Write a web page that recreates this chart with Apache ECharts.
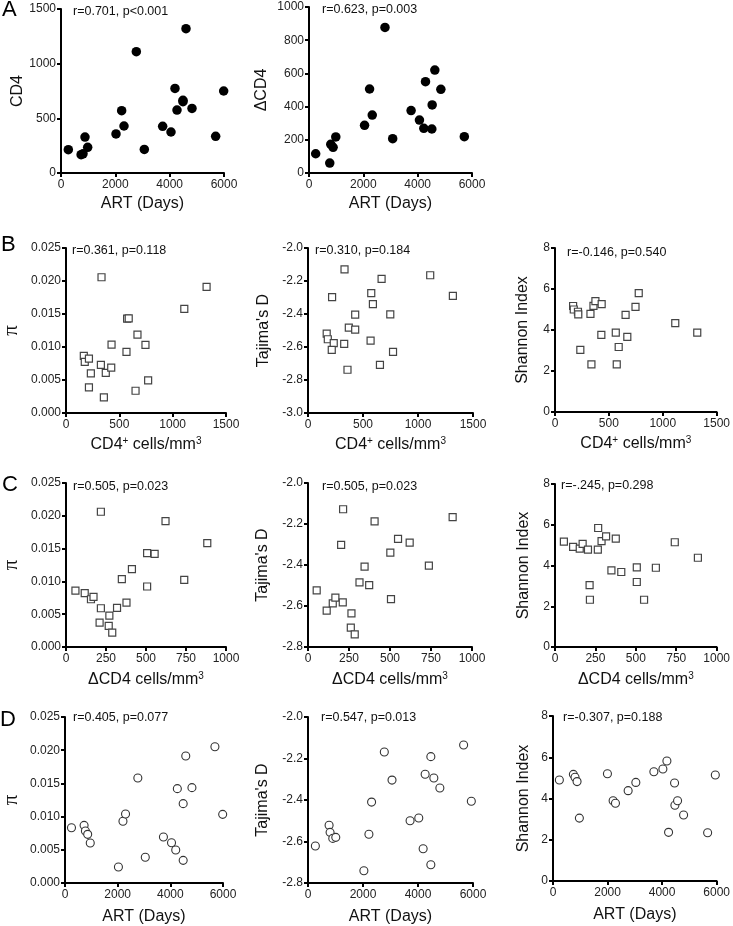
<!DOCTYPE html>
<html><head><meta charset="utf-8">
<script src="https://cdn.jsdelivr.net/npm/echarts@6/dist/echarts.min.js"></script>
<style>html,body{margin:0;padding:0;background:#fff}#c{width:733px;height:926px}</style>
</head><body><div id="c"></div>
<script>
// ---- tick values ----
const artTicks = [0, 2000, 4000, 6000];
const cd4Ticks = [0, 500, 1000, 1500];
const dcd4TicksA = [0, 200, 400, 600, 800, 1000];
const dcd4TicksC = [0, 250, 500, 750, 1000];
const piTicks = [0, 0.005, 0.010, 0.015, 0.020, 0.025];
const tajTicksB = [-3.0, -2.8, -2.6, -2.4, -2.2, -2.0];
const tajTicksCD = [-2.8, -2.6, -2.4, -2.2, -2.0];
const shanTicks = [0, 2, 4, 6, 8];

// ---- panel statistics ----
const panelLetters = ['A', 'B', 'C', 'D'];
const statsA = ['r=0.701, p<0.001', 'r=0.623, p=0.003'];
const statsB = ['r=0.361, p=0.118', 'r=0.310, p=0.184', 'r=-0.146, p=0.540'];
const statsC = ['r=0.505, p=0.023', 'r=0.505, p=0.023', 'r=-.245, p=0.298'];
const statsD = ['r=0.405, p=0.077', 'r=0.547, p=0.013', 'r=-0.307, p=0.188'];

// ---- data (x, y) ----
const cd4VsArt = [[270,213],[740,168],[810,175],[883,329],[982,235],[2025,357],[2233,570],[2319,430],[2773,1110],[3067,216],[3742,427],[4049,375],[4196,774],[4270,576],[4490,665],[4490,652],[4601,1320],[4822,591],[5693,335],[5988,750]];
const dcd4VsArt = [[246,116],[764,60],[801,173],[887,155],[986,217],[2045,287],[2230,506],[2328,349],[2797,877],[3080,207],[3758,376],[4066,319],[4226,269],[4288,550],[4522,265],[4534,410],[4632,620],[4854,504],[5717,219],[6037,735]];

const piVsCd4 = [[167,0.00865],[176,0.00775],[215,0.00825],[233,0.00599],[215,0.00387],[333,0.02057],[327,0.00729],[373,0.00609],[355,0.00236],[424,0.00689],[427,0.01036],[573,0.01429],[588,0.01434],[567,0.00926],[670,0.01187],[652,0.00337],[745,0.01031],[770,0.00493],[1109,0.01579],[1318,0.01911]];
const tajVsCd4 = [[170,-2.519],[180,-2.553],[234,-2.577],[216,-2.618],[219,-2.298],[332,-2.129],[329,-2.581],[371,-2.483],[429,-2.404],[429,-2.495],[359,-2.738],[575,-2.274],[590,-2.340],[569,-2.561],[669,-2.187],[654,-2.708],[748,-2.402],[773,-2.630],[1111,-2.165],[1317,-2.290]];
const shanVsCd4 = [[168,5.17],[174,5.00],[213,4.89],[216,4.76],[235,3.03],[329,4.79],[357,5.18],[375,5.41],[338,2.32],[433,5.26],[430,3.76],[564,3.87],[591,3.17],[573,2.32],[655,4.74],[671,3.66],[747,5.13],[777,5.80],[1116,4.34],[1320,3.87]];

const piVsDcd4 = [[59,0.0086],[117,0.0082],[156,0.00728],[172,0.00764],[218,0.00591],[210,0.00372],[218,0.02062],[271,0.00479],[267,0.00321],[289,0.00219],[319,0.00596],[349,0.01034],[378,0.00677],[412,0.01186],[507,0.01431],[507,0.00922],[554,0.01421],[622,0.0192],[739,0.01023],[883,0.01583]];
const tajVsDcd4 = [[53,-2.524],[114,-2.623],[151,-2.587],[167,-2.559],[212,-2.582],[214,-2.128],[202,-2.302],[265,-2.636],[261,-2.705],[285,-2.738],[314,-2.485],[345,-2.408],[373,-2.498],[406,-2.187],[502,-2.340],[506,-2.566],[549,-2.273],[620,-2.291],[737,-2.403],[882,-2.166]];
const shanVsDcd4 = [[55,5.17],[112,4.91],[153,4.83],[171,5.06],[204,4.78],[214,3.04],[216,2.32],[265,4.78],[267,5.84],[288,5.20],[316,5.43],[349,3.76],[376,5.32],[410,3.68],[506,3.91],[506,3.19],[551,2.32],[624,3.89],[741,5.14],[884,4.38]];

const piVsArt = [[246,0.00833],[725,0.00868],[775,0.00783],[861,0.00733],[959,0.00602],[2029,0.00241],[2201,0.00929],[2299,0.01039],[2766,0.01581],[3049,0.00387],[3738,0.00693],[4045,0.00607],[4205,0.00497],[4266,0.01421],[4488,0.01195],[4488,0.00341],[4586,0.01913],[4820,0.01436],[5693,0.02053],[5988,0.01034]];
const tajVsArt = [[268,-2.622],[767,-2.522],[803,-2.556],[901,-2.585],[1010,-2.580],[2032,-2.741],[2215,-2.565],[2312,-2.410],[2775,-2.169],[3055,-2.304],[3712,-2.500],[4028,-2.487],[4187,-2.635],[4260,-2.276],[4467,-2.191],[4467,-2.712],[4576,-2.294],[4795,-2.342],[5659,-2.135],[5939,-2.406]];
const shanVsArt = [[233,4.90],[747,5.17],[808,5.03],[882,4.82],[967,3.05],[1996,5.20],[2204,3.89],[2290,3.77],[2755,4.38],[3037,4.78],[3698,5.30],[4029,5.43],[4176,5.82],[4237,2.36],[4457,4.75],[4469,3.67],[4567,3.89],[4788,3.20],[5669,2.34],[5951,5.14]];

// ---- layout ----
const FONT = 'Liberation Sans, Arial, Helvetica, sans-serif';
const artName = 'ART (Days)';
const cd4Name = '{t|CD4}{s|+}{t| cells/mm}{s|3}';
const dcd4Name = '{t|\u0394CD4 cells/mm}{s|3}';
const plain = v => String(v);

const panels = [
  {g:[61,9,163,164],  xt:artTicks, yt:cd4Ticks,  xn:artName, yn:'CD4',        d:cd4VsArt,  m:'dot', st:statsA[0], sp:[73,12],  ygap:31, xgap:23, yfmt:plain},
  {g:[309,7,163,166], xt:artTicks, yt:dcd4TicksA,xn:artName, yn:'\u0394CD4',  d:dcd4VsArt, m:'dot', st:statsA[1], sp:[322,10], ygap:39, xgap:23, yfmt:plain},
  {g:[61,248,165,165],  xt:cd4Ticks, yt:piTicks, xn:cd4Name, yn:'\u03c0',       d:piVsCd4,   m:'sq', st:statsB[0], sp:[72,251], ygap:44, xgap:23, yfmt:v=>v.toFixed(3), pi:true},
  {g:[308,248,165,165], xt:cd4Ticks, yt:tajTicksB,xn:cd4Name,yn:"Tajima's D",   d:tajVsCd4,  m:'sq', st:statsB[1], sp:[315,251], ygap:36, xgap:23, yfmt:v=>v.toFixed(1)},
  {g:[555,248,164,164], xt:cd4Ticks, yt:shanTicks,xn:cd4Name,yn:'Shannon Index',d:shanVsCd4, m:'sq', st:statsB[2], sp:[567,253], ygap:24, xgap:23, yfmt:plain},
  {g:[61,483,165,164],  xt:dcd4TicksC, yt:piTicks, xn:dcd4Name, yn:'\u03c0',       d:piVsDcd4,   m:'sq', st:statsC[0], sp:[73,487], ygap:44, xgap:24, yfmt:v=>v.toFixed(3), pi:true},
  {g:[308,483,164,164], xt:dcd4TicksC, yt:tajTicksCD,xn:dcd4Name,yn:"Tajima's D",   d:tajVsDcd4,  m:'sq', st:statsC[1], sp:[322,487], ygap:37, xgap:24, yfmt:v=>v.toFixed(1)},
  {g:[555,484,163,163], xt:dcd4TicksC, yt:shanTicks,xn:dcd4Name,yn:'Shannon Index',d:shanVsDcd4, m:'sq', st:statsC[2], sp:[561,486], ygap:23, xgap:24, yfmt:plain},
  {g:[60,717,163,166],  xt:artTicks, yt:piTicks, xn:artName, yn:'\u03c0',       d:piVsArt,   m:'ci', st:statsD[0], sp:[73,718], ygap:43, xgap:26, yfmt:v=>v.toFixed(3), pi:true},
  {g:[308,717,165,166], xt:artTicks, yt:tajTicksCD,xn:artName,yn:"Tajima's D",   d:tajVsArt,  m:'ci', st:statsD[1], sp:[321,718], ygap:37, xgap:26, yfmt:v=>v.toFixed(1)},
  {g:[553,716,164,165], xt:artTicks, yt:shanTicks,xn:artName,yn:'Shannon Index',d:shanVsArt, m:'ci', st:statsD[2], sp:[563,718], ygap:21, xgap:26, yfmt:plain}
];
const letterPos = [[2,10],[1,245],[2,485],[0,720]];

const grid = [], xAxis = [], yAxis = [], series = [], graphic = [];
const axisCommon = {
  axisLine: {onZero:false, lineStyle:{color:'#000', width:2}},
  axisTick: {show:true, length:4, lineStyle:{color:'#000', width:2}},
  splitLine: {show:false},
};
panels.forEach((p, i) => {
  grid.push({left:p.g[0], top:p.g[1], width:p.g[2], height:p.g[3], containLabel:false});
  const xt = p.xt, yt = p.yt;
  xAxis.push(Object.assign({}, axisCommon, {
    type:'value', gridIndex:i, min:xt[0], max:xt[xt.length-1], interval:xt[1]-xt[0],
    name:p.xn, nameLocation:'middle', nameGap:p.xgap,
    nameTextStyle:{fontFamily:FONT, fontSize:16, color:'#111',
      rich:{t:{fontFamily:FONT, fontSize:16, color:'#111', lineHeight:18}, s:{fontFamily:FONT, fontSize:10, color:'#111', verticalAlign:'top', lineHeight:10}}},
    axisLabel:{fontFamily:FONT, fontSize:12, color:'#222', margin:6, formatter:plain, showMaxLabel:true, showMinLabel:true}
  }));
  yAxis.push(Object.assign({}, axisCommon, {
    type:'value', gridIndex:i, min:yt[0], max:yt[yt.length-1], interval:+(yt[1]-yt[0]).toFixed(6),
    name:p.yn, nameLocation:'middle', nameRotate:90, nameGap:p.ygap,
    nameTextStyle:{fontFamily:p.pi ? 'Liberation Serif, serif' : FONT, fontSize:p.pi?21:16, color:'#111'},
    axisLabel:{fontFamily:FONT, fontSize:12, color:'#222', margin:5, formatter:p.yfmt, showMaxLabel:true, showMinLabel:true}
  }));
  let sym;
  if (p.m === 'dot') sym = {symbol:'circle', symbolSize:9.5, itemStyle:{color:'#000', borderWidth:0, opacity:1}};
  else if (p.m === 'sq') sym = {symbol:'rect', symbolSize:7, itemStyle:{color:'#fff', borderColor:'#444', borderWidth:1.2, opacity:1}};
  else sym = {symbol:'circle', symbolSize:8, itemStyle:{color:'#fff', borderColor:'#333', borderWidth:1.1, opacity:1}};
  series.push(Object.assign({type:'scatter', xAxisIndex:i, yAxisIndex:i, data:p.d, animation:false, silent:true}, sym));
  graphic.push({type:'text', x:p.sp[0], y:p.sp[1], style:{text:p.st, fontFamily:FONT, fontSize:12.5, fill:'#111', verticalAlign:'middle', align:'left'}});
});
panelLetters.forEach((l, i) => {
  graphic.push({type:'text', x:letterPos[i][0], y:letterPos[i][1], style:{text:l, fontFamily:FONT, fontSize:22, fill:'#000', verticalAlign:'middle', align:'left'}});
});

const chart = echarts.init(document.getElementById('c'), null, {renderer:'canvas'});
chart.setOption({animation:false, backgroundColor:'#fff', grid, xAxis, yAxis, series, graphic});
</script></body></html>
